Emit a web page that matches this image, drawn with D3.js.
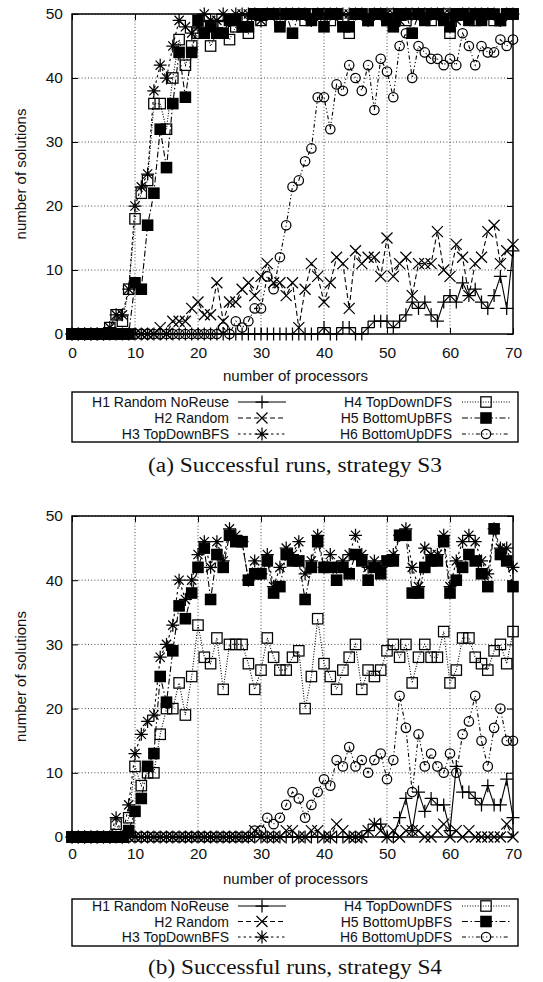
<!DOCTYPE html>
<html>
<head>
<meta charset="utf-8">
<script src="https://cdn.jsdelivr.net/npm/d3@7/dist/d3.min.js"></script>
<style>
  body { margin: 0; background: #fff; }
  svg { display: block; }
</style>
</head>
<body>
<svg id="fig" width="543" height="982"></svg>
<script>
// Number of processors (x axis), shared by both panels
const processors = [0,1,2,3,4,5,6,7,8,9,10,11,12,13,14,15,16,17,18,19,20,21,22,23,24,25,26,27,28,29,30,
  31,32,33,34,35,36,37,38,39,40,41,42,43,44,45,46,47,48,49,50,51,52,53,54,55,56,57,58,59,60,
  61,62,63,64,65,66,67,68,69,70];

const xTicks = [0, 10, 20, 30, 40, 50, 60, 70];
const yTicks = [0, 10, 20, 30, 40, 50];

const heuristicNames = ["H1 Random NoReuse", "H2 Random", "H3 TopDownBFS",
                        "H4 TopDownDFS", "H5 BottomUpBFS", "H6 BottomUpDFS"];

// ---- Strategy S3: number of solutions per heuristic ----
const s3H1 = [0,0,0,0,0,0,0,0,0,0, 0,0,0,0,0,0,0,0,0,0, 0,0,0,0,0,0,0,0,0,0, 0,0,0,0,0,0,0,0,0,0,
  1,0,0,1,1,0,0,1,2,2, 2,1,2,3,5,4,5,3,2,5, 6,5,8,6,7,5,4,6,9,4, 13];
const s3H2 = [0,0,0,0,0,0,0,0,0,0, 0,0,0,0,1,0,2,2,2,4, 5,3,3,8,2,5,5,7,8,6,
  9,11,8,8,6,8,1,7,11,9, 5,8,12,11,4,13,11,12,12,9, 15,9,11,12,6,11,11,11,16,10,
  9,14,12,6,11,12,16,17,11,13, 14];
const s3H3 = [0,0,0,0,0,0,1,3,3,7, 20,23,25,38,42,40,45,49,48,47, 48,50,49,49,50,49,50,50,50,50,
  49,50,50,50,50,50,50,50,49,50, 50,50,50,50,50,50,50,49,50,50, 50,50,49,50,50,50,50,50,50,50,
  50,49,50,50,50,50,50,50,49,50, 50];
const s3H4 = [0,0,0,0,0,0,1,3,2,7, 18,22,24,36,36,32,40,46,42,45, 47,48,45,47,48,46,48,49,47,50,
  49,50,50,49,50,50,50,49,50,50, 50,49,50,49,47,50,50,49,50,50, 49,50,50,49,50,50,50,49,50,50,
  47,50,50,50,49,50,50,49,49,50, 50];
const s3H5 = [0,0,0,0,0,0,0,0,0,0, 8,7,17,22,32,26,36,44,37,44, 49,47,48,47,47,49,49,48,48,50,
  50,50,50,48,50,47,50,50,49,50, 48,50,50,48,48,50,50,49,50,50, 49,48,50,50,47,50,49,50,50,49,
  48,50,50,49,50,49,50,50,49,50, 50];
const s3H6 = [0,0,0,0,0,0,0,0,0,0, 0,0,0,0,0,0,0,0,0,0, 0,0,0,0,1,0,2,1,2,4,
  4,9,7,12,17,23,24,27,29,37, 37,32,39,38,42,40,38,42,35,43, 41,37,45,47,40,45,44,43,43,42,
  43,42,47,45,42,45,44,44,46,45, 46];

// ---- Strategy S4: number of solutions per heuristic ----
const s4H1 = [0,0,0,0,0,0,0,0,0,0, 0,0,0,0,0,0,0,0,0,0, 0,0,0,0,0,0,0,0,0,0, 0,0,0,0,0,0,0,0,0,0,
  0,0,0,0,0,0,0,1,2,2, 0,0,3,6,1,7,4,6,5,5, 1,11,7,7,6,5,8,5,5,9, 3];
const s4H2 = [0,0,0,0,0,0,0,0,0,0, 0,0,0,0,0,0,0,0,0,0, 0,0,0,0,0,0,0,0,0,1,
  0,0,0,0,1,1,0,0,1,1, 0,0,2,1,0,0,0,1,2,1, 0,1,0,1,1,1,0,0,1,2,
  0,1,0,1,0,0,0,0,0,2, 0];
const s4H3 = [0,0,0,0,0,0,0,3,0,5, 13,16,18,19,28,30,33,40,37,40, 44,46,42,46,43,48,47,46,40,43,
  41,44,39,42,45,44,46,41,43,47, 42,44,42,43,44,47,44,42,43,42, 43,44,47,48,42,39,45,44,44,47,
  39,43,46,47,46,43,41,48,45,45, 42];
const s4H4 = [0,0,0,0,0,0,0,2,0,3, 11,8,10,10,16,20,20,24,19,25, 33,28,27,31,23,30,30,30,27,23,
  26,31,28,26,26,28,29,20,25,34, 27,25,23,26,28,30,23,26,25,26, 29,30,28,30,24,28,30,28,28,32,
  24,26,31,31,28,27,26,29,30,27, 32];
const s4H5 = [0,0,0,0,0,0,0,0,0,1, 4,6,11,13,25,21,29,36,34,38, 42,45,37,44,42,47,46,46,40,41,
  41,43,38,39,44,43,43,37,42,46, 42,42,40,42,41,44,43,40,42,41, 43,43,47,47,38,38,42,43,43,46,
  38,40,42,44,43,41,39,48,44,43, 39];
const s4H6 = [0,0,0,0,0,0,0,0,0,0, 0,0,0,0,0,0,0,0,0,0, 0,0,0,0,0,0,0,0,0,1,
  1,3,2,3,5,7,6,3,5,7, 9,8,12,11,14,11,12,10,12,13, 9,12,22,17,7,16,11,13,11,10,
  13,10,16,18,22,15,11,17,20,15, 15];

// Line dash pattern and point symbol for each heuristic (gnuplot-like styles)
const styles = [
  { dash: null,                    symbol: "plus" },
  { dash: "5,3",                   symbol: "cross" },
  { dash: "2.5,3",                 symbol: "star" },
  { dash: "1,1.6",                 symbol: "square" },
  { dash: "6,2.5,1.5,2.5",         symbol: "filledSquare" },
  { dash: "4,2.5,1.2,2.5,1.2,2.5", symbol: "circle" }
];

const panels = [
  { series: [s3H1, s3H2, s3H3, s3H4, s3H5, s3H6],
    top: 14, bottom: 334, tickLabelY: 352, xTitleY: 375,
    legend: { y0: 392, y1: 442, rows: [402, 418, 434] },
    caption: "(a) Successful runs, strategy S3", captionY: 465 },
  { series: [s4H1, s4H2, s4H3, s4H4, s4H5, s4H6],
    top: 516, bottom: 837, tickLabelY: 853, xTitleY: 878,
    legend: { y0: 899, y1: 946, rows: [906, 921.5, 937] },
    caption: "(b) Successful runs, strategy S4", captionY: 967 }
];

const LEFT = 72, RIGHT = 513;
const sansFont = "'Liberation Sans', Arial, Helvetica, sans-serif";
const serifFont = "'Liberation Serif', 'DejaVu Serif', serif";

const svg = d3.select("#fig");

function drawSymbol(g, type, cx, cy) {
  const s = g.append("g").attr("transform", `translate(${cx},${cy})`);
  const sw = 1.25;
  if (type === "plus") {
    s.append("path").attr("d", "M-6.5,0H6.5M0,-6.5V6.5")
      .attr("stroke", "#000").attr("stroke-width", sw).attr("fill", "none");
  } else if (type === "cross") {
    s.append("path").attr("d", "M-5.5,-5.5L5.5,5.5M-5.5,5.5L5.5,-5.5")
      .attr("stroke", "#000").attr("stroke-width", sw).attr("fill", "none");
  } else if (type === "star") {
    s.append("path").attr("d", "M-6.5,0H6.5M0,-6.5V6.5M-4.6,-4.6L4.6,4.6M-4.6,4.6L4.6,-4.6")
      .attr("stroke", "#000").attr("stroke-width", sw).attr("fill", "none");
  } else if (type === "square") {
    s.append("rect").attr("x", -5.2).attr("y", -5.2).attr("width", 10.4).attr("height", 10.4)
      .attr("stroke", "#000").attr("stroke-width", sw).attr("fill", "none");
  } else if (type === "filledSquare") {
    s.append("rect").attr("x", -5.8).attr("y", -5.8).attr("width", 11.6).attr("height", 11.6)
      .attr("fill", "#000");
  } else if (type === "circle") {
    s.append("circle").attr("r", 4.7)
      .attr("stroke", "#000").attr("stroke-width", sw).attr("fill", "none");
  }
}

panels.forEach(p => {
  const x = d3.scaleLinear().domain([0, 70]).range([LEFT, RIGHT]);
  const y = d3.scaleLinear().domain([0, 50]).range([p.bottom, p.top]);
  const g = svg.append("g");

  // dotted grid
  const grid = g.append("g").attr("stroke", "#333").attr("stroke-width", 0.9)
    .attr("stroke-dasharray", "1,2.2");
  xTicks.slice(1, -1).forEach(t => {
    grid.append("line").attr("x1", x(t)).attr("x2", x(t)).attr("y1", p.top).attr("y2", p.bottom);
  });
  yTicks.slice(1).forEach(t => {
    grid.append("line").attr("x1", LEFT).attr("x2", RIGHT).attr("y1", y(t)).attr("y2", y(t));
  });

  // axes with inward ticks, mirrored on the top and right
  const tickLen = 6;
  const axB = d3.axisBottom(x).tickValues(xTicks).tickSizeInner(-tickLen).tickSizeOuter(0)
    .tickFormat(d3.format("d")).tickPadding(tickLen + 6);
  const axL = d3.axisLeft(y).tickValues(yTicks).tickSizeInner(-tickLen).tickSizeOuter(0)
    .tickFormat(d3.format("d")).tickPadding(tickLen + 3);
  const axT = d3.axisTop(x).tickValues(xTicks).tickSizeInner(-tickLen).tickSizeOuter(0).tickFormat("");
  const axR = d3.axisRight(y).tickValues(yTicks).tickSizeInner(-tickLen).tickSizeOuter(0).tickFormat("");

  const gb = g.append("g").attr("transform", `translate(0,${p.bottom})`).call(axB);
  g.append("g").attr("transform", `translate(${LEFT},0)`).call(axL);
  g.append("g").attr("transform", `translate(0,${p.top})`).call(axT);
  g.append("g").attr("transform", `translate(${RIGHT},0)`).call(axR);
  g.selectAll(".domain").remove();
  g.selectAll(".tick line").attr("stroke", "#000").attr("stroke-width", 1);
  gb.selectAll("text").attr("y", null).attr("dy", null)
    .attr("transform", `translate(0,${p.tickLabelY - p.bottom})`)
    .attr("dominant-baseline", "central");
  g.selectAll(".tick text").attr("font-family", sansFont).attr("font-size", 15.5).attr("fill", "#111");

  // frame
  g.append("rect").attr("x", LEFT).attr("y", p.top).attr("width", RIGHT - LEFT)
    .attr("height", p.bottom - p.top).attr("fill", "none").attr("stroke", "#000").attr("stroke-width", 1.5);

  // axis titles
  g.append("text").attr("x", (LEFT + RIGHT) / 2 + 3).attr("y", p.xTitleY)
    .attr("text-anchor", "middle").attr("dominant-baseline", "central")
    .attr("font-family", sansFont).attr("font-size", 15).attr("fill", "#111")
    .text("number of processors");
  g.append("text").attr("transform", `translate(20,${(p.top + p.bottom) / 2}) rotate(-90)`)
    .attr("text-anchor", "middle").attr("dominant-baseline", "central")
    .attr("font-family", sansFont).attr("font-size", 15).attr("fill", "#111")
    .text("number of solutions");

  // series: line then points, in heuristic order
  const line = d3.line().x((d, i) => x(processors[i])).y(d => y(d));
  p.series.forEach((vals, k) => {
    const st = styles[k];
    g.append("path").datum(vals).attr("d", line)
      .attr("fill", "none").attr("stroke", "#000").attr("stroke-width", 1.1)
      .attr("stroke-dasharray", st.dash);
    const pts = g.append("g");
    vals.forEach((v, i) => drawSymbol(pts, st.symbol, x(processors[i]), y(v)));
  });

  // legend
  const L = p.legend;
  g.append("rect").attr("x", 72).attr("y", L.y0).attr("width", 446).attr("height", L.y1 - L.y0)
    .attr("fill", "#fff").attr("stroke", "#000").attr("stroke-width", 1.4);
  const cols = [{ textEnd: 229, s0: 238, s1: 286 }, { textEnd: 452, s0: 462, s1: 510 }];
  heuristicNames.forEach((name, k) => {
    const c = cols[Math.floor(k / 3)];
    const ry = L.rows[k % 3];
    g.append("text").attr("x", c.textEnd).attr("y", ry)
      .attr("text-anchor", "end").attr("dominant-baseline", "central")
      .attr("font-family", sansFont).attr("font-size", 14).attr("fill", "#111").text(name);
    g.append("line").attr("x1", c.s0).attr("x2", c.s1).attr("y1", ry).attr("y2", ry)
      .attr("stroke", "#000").attr("stroke-width", 1.1).attr("stroke-dasharray", styles[k].dash);
    drawSymbol(g, styles[k].symbol, (c.s0 + c.s1) / 2, ry);
  });

  // caption
  g.append("text").attr("x", 295).attr("y", p.captionY)
    .attr("text-anchor", "middle").attr("dominant-baseline", "central")
    .attr("font-family", serifFont).attr("font-size", 20).attr("fill", "#111")
    .attr("textLength", 294).attr("lengthAdjust", "spacingAndGlyphs")
    .text(p.caption);
});
</script>
</body>
</html>
